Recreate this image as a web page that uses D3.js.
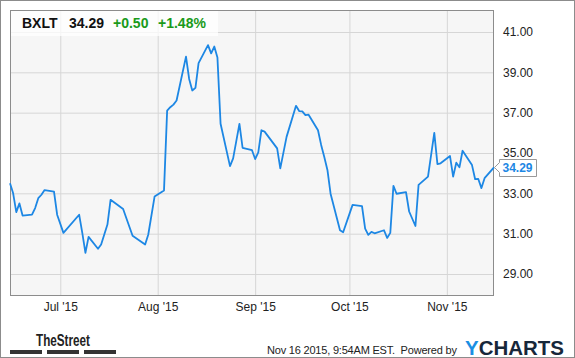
<!DOCTYPE html>
<html>
<head>
<meta charset="utf-8">
<script src="https://cdn.jsdelivr.net/npm/d3@7"></script>
<style>
body { margin: 0; background: #fff; }
svg { display: block; font-family: Arial, "Liberation Sans", sans-serif; }
</style>
</head>
<body>
<svg id="chart" width="575" height="358"></svg>
<script>
// BXLT daily closes (2015)
var days = ["06-15","06-16","06-17","06-18","06-19","06-22","06-23","06-24","06-25","06-26",
    "06-29","06-30","07-02","07-07","07-08","07-09","07-10","07-13","07-14","07-16",
    "07-17","07-21","07-22","07-24","07-28","07-29","07-31","08-03","08-04","08-05",
    "08-06","08-07","08-10","08-11","08-12","08-13","08-14","08-17","08-18","08-19",
    "08-20","08-21","08-24","08-25","08-27","08-28","08-31","09-01","09-02","09-03",
    "09-04","09-08","09-09","09-11","09-14","09-15","09-16","09-17","09-18","09-21",
    "09-22","09-23","09-24","09-25","09-28","09-29","10-02","10-05","10-06","10-07",
    "10-08","10-09","10-12","10-13","10-14","10-15","10-16","10-19","10-20","10-22",
    "10-23","10-26","10-28","10-29","10-30","11-02","11-03","11-04","11-05","11-06",
    "11-09","11-10","11-11","11-12","11-13","11-16"];
var prices = [33.50,33.00,32.07,32.50,31.90,31.94,32.27,32.76,32.93,33.16,
    33.09,31.94,31.04,31.94,31.04,30.05,30.84,30.25,30.46,31.45,
    32.68,32.22,31.78,30.90,30.46,30.96,32.84,33.14,37.10,37.27,
    37.40,37.60,39.78,38.67,38.10,38.23,39.46,40.35,39.94,40.28,
    39.74,36.45,34.35,34.73,36.44,35.26,35.14,34.70,35.03,36.13,
    36.06,35.23,34.24,35.80,37.34,37.08,37.06,36.88,36.90,36.13,
    35.40,34.80,34.16,32.98,31.17,31.07,32.43,32.37,31.25,30.94,
    31.09,31.02,31.17,30.79,31.04,33.37,32.98,33.06,32.10,31.38,
    33.42,33.83,36.00,34.45,34.49,34.85,33.83,34.52,34.29,35.11,
    34.40,33.70,33.71,33.26,33.75,34.29];

var yTicks = [29, 31, 33, 35, 37, 39, 41];
var xTickDays = ["07-01", "08-01", "09-01", "10-01", "11-01"];
var xTickLabels = ["Jul '15", "Aug '15", "Sep '15", "Oct '15", "Nov '15"];

var ticker = "BXLT", lastPrice = "34.29", change = "+0.50", changePct = "+1.48%";
var stamp = "Nov 16 2015, 9:54AM EST.  Powered by";

var parseDay = d3.timeParse("%Y-%m-%d");
var data = days.map(function(d, i) { return { date: parseDay("2015-" + d), close: prices[i] }; });
var tickDates = xTickDays.map(function(d) { return parseDay("2015-" + d); });

var svg = d3.select("#chart");
var plotL = 10, plotR = 494, plotT = 10, plotB = 296;

var x = d3.scaleTime()
    .domain([parseDay("2015-06-15"), parseDay("2015-11-16")])
    .range([plotL, plotR]);
var y = d3.scaleLinear()
    .domain([27.91, 42.09])
    .range([plotB, plotT]);

// outer frame
svg.append("rect")
    .attr("x", 0.5).attr("y", 0.5).attr("width", 574).attr("height", 357)
    .attr("fill", "#fff").attr("stroke", "#8c8c8c");

// plot background
svg.append("rect")
    .attr("x", plotL).attr("y", plotT).attr("width", plotR - plotL).attr("height", plotB - plotT)
    .attr("fill", "#f6f6f6");

// horizontal gridlines
svg.append("g")
    .attr("transform", "translate(" + plotL + ",0)")
    .call(d3.axisRight(y).tickValues(yTicks).tickSize(plotR - plotL).tickFormat(""))
    .call(function(g) { g.select(".domain").remove(); })
    .selectAll("line").attr("stroke", "#d6d6d6");

// vertical gridlines
svg.append("g")
    .attr("transform", "translate(0," + plotB + ")")
    .call(d3.axisBottom(x).tickValues(tickDates).tickSize(-(plotB - plotT)).tickFormat(""))
    .call(function(g) { g.select(".domain").remove(); })
    .selectAll("line").attr("stroke", "#d6d6d6");

// plot border
svg.append("rect")
    .attr("x", plotL + 0.5).attr("y", plotT + 0.5).attr("width", plotR - plotL - 1).attr("height", plotB - plotT - 1)
    .attr("fill", "none").attr("stroke", "#8c8c8c");

// price line
var lineDraw = d3.line()
    .x(function(d) { return x(d.date); })
    .y(function(d) { return y(d.close); });

svg.append("path")
    .datum(data)
    .attr("d", lineDraw)
    .attr("fill", "none")
    .attr("stroke", "#1d87e4")
    .attr("stroke-width", 1.8)
    .attr("stroke-linejoin", "round");

// y axis labels on the right
var yAxis = svg.append("g")
    .attr("transform", "translate(" + plotR + ",0)")
    .call(d3.axisRight(y).tickValues(yTicks).tickSize(0).tickPadding(9).tickFormat(d3.format(".2f")));
yAxis.select(".domain").remove();
yAxis.selectAll("text").attr("font-size", 12).attr("fill", "#222").attr("font-family", "Arial, 'Liberation Sans', sans-serif");

// x axis labels
var xAxis = svg.append("g")
    .attr("transform", "translate(0," + plotB + ")")
    .call(d3.axisBottom(x).tickValues(tickDates)
        .tickSize(0).tickPadding(6).tickFormat(function(d, i) { return xTickLabels[i]; }));
xAxis.select(".domain").remove();
xAxis.selectAll("text").attr("font-size", 12).attr("fill", "#222").attr("font-family", "Arial, 'Liberation Sans', sans-serif");

// last value flag
var last = data[data.length - 1];
var ly = Math.round(y(last.close)) + 0.5;
svg.append("path")
    .attr("d", "M" + (plotR + 0.5) + "," + ly + "L" + (plotR + 5.5) + "," + (ly - 5) + "V" + (ly - 8) +
        "H536.5V" + (ly + 9) + "H" + (plotR + 5.5) + "V" + (ly + 5) + "Z")
    .attr("fill", "#fff").attr("stroke", "#999");
svg.append("text")
    .attr("x", 517.5).attr("y", ly + 4.5)
    .attr("text-anchor", "middle")
    .attr("font-size", 12).attr("font-weight", "bold")
    .attr("fill", "#1d87e4")
    .text(lastPrice);

// header quote box
svg.append("rect")
    .attr("x", plotL + 1).attr("y", plotT + 1).attr("width", 207).attr("height", 25)
    .attr("fill", "#fff").attr("fill-opacity", 0.75);
var header = svg.append("g").attr("font-size", 14).attr("font-weight", "bold");
header.append("text").attr("x", 22).attr("y", 28).attr("fill", "#111").text(ticker);
header.append("text").attr("x", 69).attr("y", 28).attr("fill", "#111").text(lastPrice);
header.append("text").attr("x", 113).attr("y", 28).attr("fill", "#1a9a1a").text(change);
header.append("text").attr("x", 158).attr("y", 28).attr("fill", "#1a9a1a").text(changePct);

// footer: TheStreet mark
svg.append("text")
    .attr("x", 36).attr("y", 346)
    .attr("font-size", 17).attr("font-weight", "bold").attr("fill", "#222")
    .attr("textLength", 54).attr("lengthAdjust", "spacingAndGlyphs")
    .text("TheStreet");
[[10, 42], [47, 79], [84, 116]].forEach(function(b) {
    svg.append("rect").attr("x", b[0]).attr("y", 350).attr("width", b[1] - b[0]).attr("height", 4).attr("fill", "#333");
});

// footer: timestamp and YCHARTS
svg.append("text")
    .attr("x", 267).attr("y", 354)
    .attr("font-size", 11).attr("fill", "#222")
    .attr("letter-spacing", -0.2)
    .attr("xml:space", "preserve")
    .text(stamp);
var yc = svg.append("text")
    .attr("x", 465).attr("y", 355)
    .attr("font-size", 20).attr("font-weight", "bold")
    .attr("textLength", 99).attr("lengthAdjust", "spacingAndGlyphs");
yc.append("tspan").attr("fill", "#1a8fe3").text("Y");
yc.append("tspan").attr("fill", "#17273a").text("CHARTS");
</script>
</body>
</html>
